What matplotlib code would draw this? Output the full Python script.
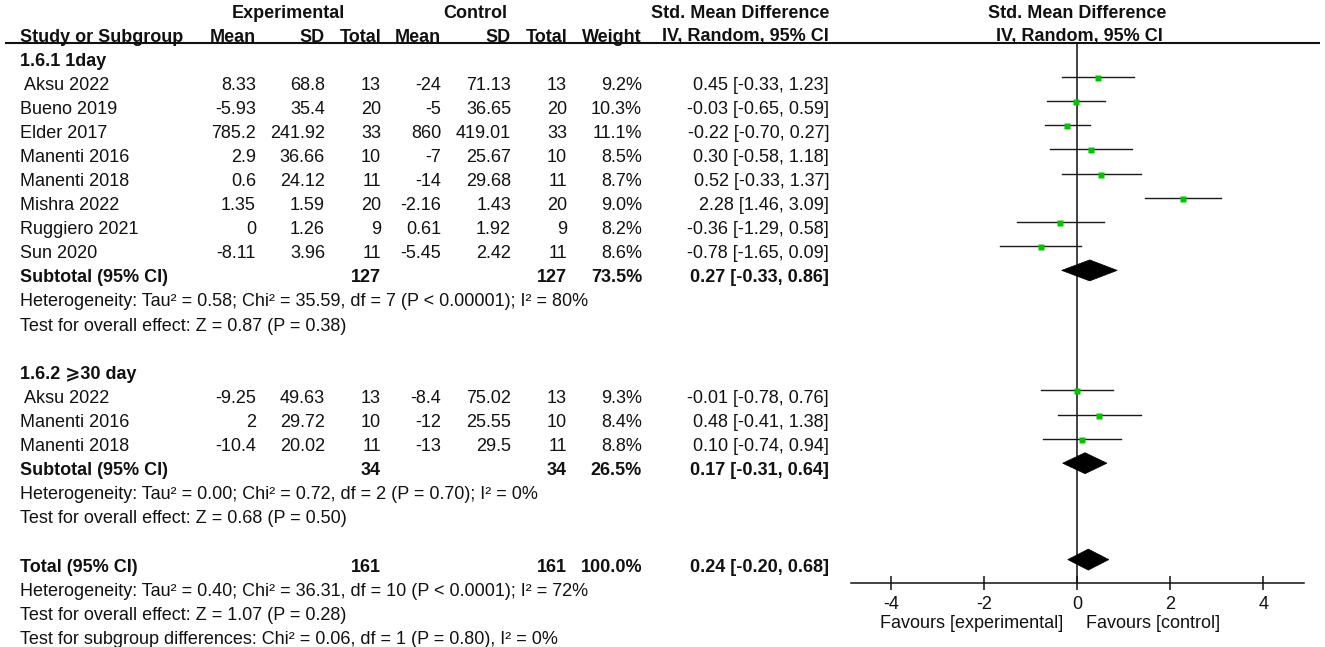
import matplotlib.pyplot as plt
from matplotlib.patches import Polygon

plt.rcParams['font.family'] = ['Liberation Sans', 'DejaVu Sans', 'Noto Sans CJK SC']

# subgroup 1.6.1 1day
names1 = [' Aksu 2022', 'Bueno 2019', 'Elder 2017', 'Manenti 2016', 'Manenti 2018',
          'Mishra 2022', 'Ruggiero 2021', 'Sun 2020']
exp_mean1 = [8.33, -5.93, 785.2, 2.9, 0.6, 1.35, 0, -8.11]
exp_sd1 = [68.8, 35.4, 241.92, 36.66, 24.12, 1.59, 1.26, 3.96]
exp_n1 = [13, 20, 33, 10, 11, 20, 9, 11]
ctl_mean1 = [-24, -5, 860, -7, -14, -2.16, 0.61, -5.45]
ctl_sd1 = [71.13, 36.65, 419.01, 25.67, 29.68, 1.43, 1.92, 2.42]
ctl_n1 = [13, 20, 33, 10, 11, 20, 9, 11]
weight1 = [9.2, 10.3, 11.1, 8.5, 8.7, 9.0, 8.2, 8.6]
smd1 = [0.45, -0.03, -0.22, 0.30, 0.52, 2.28, -0.36, -0.78]
lo1 = [-0.33, -0.65, -0.70, -0.58, -0.33, 1.46, -1.29, -1.65]
hi1 = [1.23, 0.59, 0.27, 1.18, 1.37, 3.09, 0.58, 0.09]
sub1 = [127, 127, 73.5, 0.27, -0.33, 0.86]
het1 = 'Heterogeneity: Tau² = 0.58; Chi² = 35.59, df = 7 (P < 0.00001); I² = 80%'
eff1 = 'Test for overall effect: Z = 0.87 (P = 0.38)'

# subgroup 1.6.2 >=30 day
names2 = [' Aksu 2022', 'Manenti 2016', 'Manenti 2018']
exp_mean2 = [-9.25, 2, -10.4]
exp_sd2 = [49.63, 29.72, 20.02]
exp_n2 = [13, 10, 11]
ctl_mean2 = [-8.4, -12, -13]
ctl_sd2 = [75.02, 25.55, 29.5]
ctl_n2 = [13, 10, 11]
weight2 = [9.3, 8.4, 8.8]
smd2 = [-0.01, 0.48, 0.10]
lo2 = [-0.78, -0.41, -0.74]
hi2 = [0.76, 1.38, 0.94]
sub2 = [34, 34, 26.5, 0.17, -0.31, 0.64]
het2 = 'Heterogeneity: Tau² = 0.00; Chi² = 0.72, df = 2 (P = 0.70); I² = 0%'
eff2 = 'Test for overall effect: Z = 0.68 (P = 0.50)'

total = [161, 161, 100.0, 0.24, -0.20, 0.68]
het_all = 'Heterogeneity: Tau² = 0.40; Chi² = 36.31, df = 10 (P < 0.0001); I² = 72%'
eff_all = 'Test for overall effect: Z = 1.07 (P = 0.28)'
sub_diff = 'Test for subgroup differences: Chi² = 0.06, df = 1 (P = 0.80), I² = 0%'

ticks = [-4, -2, 0, 2, 4]

W, H = 1325, 647
FS = 13
INK = '#111111'
GREEN = '#00c400'
COLS = [256, 325, 381, 441, 511, 567, 642, 829]   # right edges of the table columns


def row_y(i):
    return 59 + 24.1 * i


def put(ax, x, y, s, ha='left', bold=False):
    # y is the visual centre of the row, text sits on a baseline below it
    ax.text(x, y + 6.5, s, ha=ha, va='baseline', fontsize=FS, color=INK,
            fontweight='bold' if bold else 'normal')


def ci_text(est, lo, hi):
    return '%.2f [%.2f, %.2f]' % (est, lo, hi)


def study_rows(bg, fx, start, names, em, esd, en, cm, csd, cn, w, smd, lo, hi):
    for k in range(len(names)):
        y = row_y(start + k)
        put(bg, 20, y, names[k])
        vals = [em[k], esd[k], en[k], cm[k], csd[k], cn[k],
                '%.1f%%' % w[k], ci_text(smd[k], lo[k], hi[k])]
        for x, v in zip(COLS, vals):
            put(bg, x, y, str(v), ha='right')
        ym = y - 6
        fx.plot([lo[k], hi[k]], [ym, ym], color='#1a1a1a', lw=1.0, clip_on=False)
        fx.plot(smd[k], ym + 1, 's', ms=4.0, color=GREEN,
                mec='none', clip_on=False, zorder=3)


def summary_row(bg, fx, i, label, vals):
    y = row_y(i)
    put(bg, 20, y, label, bold=True)
    put(bg, COLS[2], y, str(vals[0]), ha='right', bold=True)
    put(bg, COLS[5], y, str(vals[1]), ha='right', bold=True)
    put(bg, COLS[6], y, '%.1f%%' % vals[2], ha='right', bold=True)
    put(bg, COLS[7], y, ci_text(vals[3], vals[4], vals[5]), ha='right', bold=True)
    ym = y - 5.5
    d = Polygon([(vals[4], ym), (vals[3], ym - 10.5), (vals[5], ym), (vals[3], ym + 10.5)],
                closed=True, facecolor='black', edgecolor='black', lw=0.5, zorder=3)
    fx.add_patch(d)


def main():
    fig = plt.figure(figsize=(W / 100, H / 100), dpi=100)
    bg = fig.add_axes([0, 0, 1, 1])
    bg.set_xlim(0, W)
    bg.set_ylim(H, 0)
    bg.axis('off')

    x0, x1, ytop, yaxis = 850.7, 1304, 43, 582.7
    fx = fig.add_axes([x0 / W, 1 - yaxis / H, (x1 - x0) / W, (yaxis - ytop) / H])
    fx.patch.set_visible(False)
    fx.set_xlim(-4.86, 4.87)
    fx.set_ylim(yaxis, ytop)
    for s in ['top', 'left', 'right']:
        fx.spines[s].set_visible(False)
    fx.spines['bottom'].set_linewidth(1.1)
    fx.spines['bottom'].set_color(INK)
    fx.set_yticks([])
    fx.set_xticks(ticks)
    fx.set_xticklabels([str(t) for t in ticks])
    fx.tick_params(axis='x', direction='inout', length=10, width=1.1, pad=4.5,
                   labelsize=FS, colors=INK)
    fx.axvline(0, color=INK, lw=1.1, zorder=1)

    # headers
    bg.text(288, 18.5, 'Experimental', ha='center', va='baseline', fontsize=FS,
            fontweight='bold', color=INK)
    bg.text(475, 18.5, 'Control', ha='center', va='baseline', fontsize=FS,
            fontweight='bold', color=INK)
    bg.text(COLS[7], 18.5, 'Std. Mean Difference', ha='right', va='baseline', fontsize=FS,
            fontweight='bold', color=INK)
    bg.text(1077, 18.5, 'Std. Mean Difference', ha='center', va='baseline', fontsize=FS,
            fontweight='bold', color=INK)
    heads = ['Mean', 'SD', 'Total', 'Mean', 'SD', 'Total', 'Weight', 'IV, Random, 95% CI']
    put(bg, 20, 35, 'Study or Subgroup', bold=True)
    for x, h in zip(COLS, heads):
        put(bg, x, 35, h, ha='right', bold=True)
    put(bg, 1079, 35, 'IV, Random, 95% CI', ha='center', bold=True)
    bg.plot([5, 1320], [43, 43], color=INK, lw=1.5, solid_capstyle='butt')

    put(bg, 20, row_y(0), '1.6.1 1day', bold=True)
    study_rows(bg, fx, 1, names1, exp_mean1, exp_sd1, exp_n1, ctl_mean1, ctl_sd1, ctl_n1,
               weight1, smd1, lo1, hi1)
    summary_row(bg, fx, 9, 'Subtotal (95% CI)', sub1)
    put(bg, 20, row_y(10), het1)
    put(bg, 20, row_y(11), eff1)

    put(bg, 20, row_y(13), '1.6.2 ⩾30 day', bold=True)
    study_rows(bg, fx, 14, names2, exp_mean2, exp_sd2, exp_n2, ctl_mean2, ctl_sd2, ctl_n2,
               weight2, smd2, lo2, hi2)
    summary_row(bg, fx, 17, 'Subtotal (95% CI)', sub2)
    put(bg, 20, row_y(18), het2)
    put(bg, 20, row_y(19), eff2)

    summary_row(bg, fx, 21, 'Total (95% CI)', total)
    put(bg, 20, row_y(22), het_all)
    put(bg, 20, row_y(23), eff_all)
    put(bg, 20, row_y(24), sub_diff)

    put(bg, 1063, 622, 'Favours [experimental]', ha='right')
    put(bg, 1086, 622, 'Favours [control]')

    fig.savefig('out.png', dpi=100)


if __name__ == '__main__':
    main()
